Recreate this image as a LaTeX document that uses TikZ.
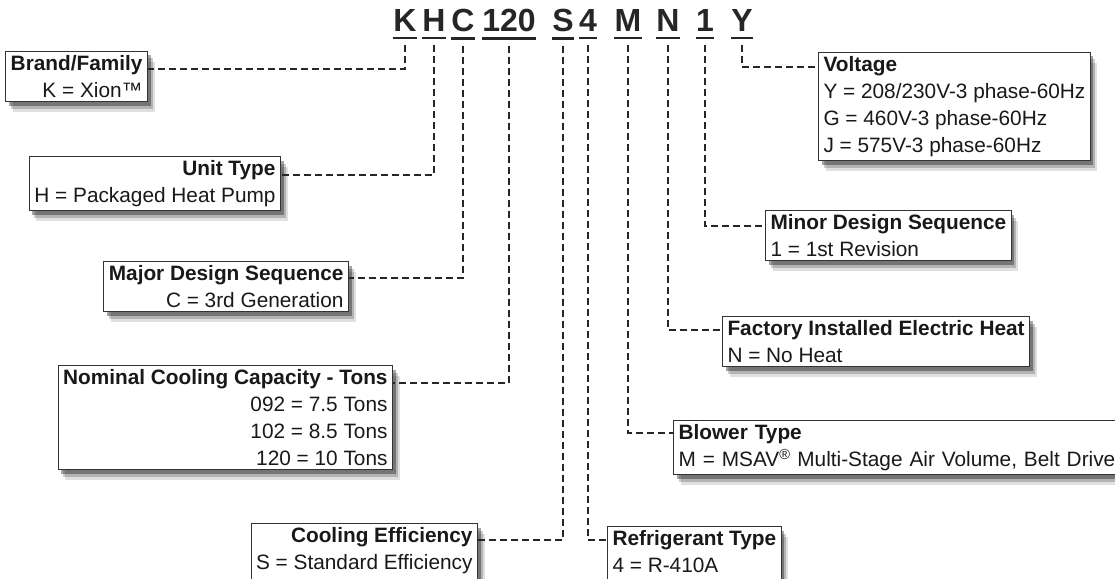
\documentclass[tikz,border=0pt]{standalone}
\usepackage{fontspec}
\setmainfont{Liberation Sans}
\usetikzlibrary{calc,shadows}

\tikzset{
	code/.style={font=\fontsize{32}{32}\selectfont\bfseries, text=black!85, inner sep=0pt, anchor=base},
	uline/.style={line width=2.2pt, color=black!85},
	link/.style={line width=2pt, color=black!85, dash pattern=on 7pt off 4pt},
	keybox/.style={draw=black!80, line width=1pt, fill=white, text=black!90, inner xsep=5pt, inner ysep=4pt,
		font=\fontsize{20.8}{27}\selectfont,
		general shadow={fill=black, opacity=.12, shadow xshift=7pt, shadow yshift=-10pt},
		general shadow={fill=black, opacity=.20, shadow xshift=5pt, shadow yshift=-7pt},
		general shadow={fill=black, opacity=.35, shadow xshift=3pt, shadow yshift=-4pt}},
	leftkey/.style={keybox, anchor=north east, align=right},
	rightkey/.style={keybox, anchor=north west, align=left},
}

\begin{document}
\begin{tikzpicture}[x=1pt, y=-1pt]
		%%%%% START %%%%%
		
		\useasboundingbox (0, 0) rectangle (1115, 578);
		\clip (0, 0) rectangle (1115, 578);
		
		\node[code] (cK) at (405, 32) {K};
		\node[code] (cH) at (434, 32) {H};
		\node[code] (cC) at (463, 32) {C};
		\node[code] (c120) at (509, 32) {120};
		\node[code] (cS) at (563, 32) {S};
		\node[code] (c4) at (588, 32) {4};
		\node[code] (cM) at (628, 32) {M};
		\node[code] (cN) at (668, 32) {N};
		\node[code] (c1) at (705, 32) {1};
		\node[code] (cY) at (742, 32) {Y};
		
		\foreach \c in {cK, cH, cC, c120, cS, c4, cM, cN, c1, cY}
			\draw[uline] ([yshift=-6pt]\c.south west) -- ([yshift=-6pt]\c.south east);
		
		\node[leftkey] (brand) at (148, 51) {\textbf{Brand/Family}\\K = Xion™};
		\node[leftkey] (unit) at (281, 156) {\textbf{Unit Type}\\H = Packaged Heat Pump};
		\node[leftkey] (major) at (349, 261) {\textbf{Major Design Sequence}\\C = 3rd Generation};
		\node[leftkey] (nominal) at (393, 365) {\textbf{Nominal Cooling Capacity - Tons}\\092 = 7.5 Tons\\102 = 8.5 Tons\\120 = 10 Tons};
		\node[leftkey, text depth=24pt] (cooleff) at (478, 523) {\textbf{Cooling Efficiency}\\S = Standard Efficiency};
		
		\node[rightkey] (volt) at (818, 52) {\textbf{Voltage}\\Y = 208/230V-3 phase-60Hz\\G = 460V-3 phase-60Hz\\J = 575V-3 phase-60Hz};
		\node[rightkey] (minor) at (765, 210) {\textbf{Minor Design Sequence}\\1 = 1st Revision};
		\node[rightkey] (heat) at (722, 316) {\textbf{Factory Installed Electric Heat}\\N = No Heat};
		\node[rightkey, text width=460pt] (blower) at (673, 420) {\textbf{Blower Type}\\M = MSAV\textsuperscript{®} Multi-Stage Air Volume, Belt Drive};
		\node[rightkey, text depth=24pt] (refrig) at (607, 526) {\textbf{Refrigerant Type}\\4 = R-410A};
		
		\draw[link] ([yshift=-13pt]cK.south) |- ($(brand.north east)+(0, 18)$);
		\draw[link] ([yshift=-13pt]cH.south) |- ($(unit.north east)+(0, 19)$);
		\draw[link] ([yshift=-13pt]cC.south) |- ($(major.north east)+(0, 17)$);
		\draw[link] ([yshift=-13pt]c120.south) |- ($(nominal.north east)+(0, 18)$);
		\draw[link] ([yshift=-13pt]cS.south) |- ($(cooleff.north east)+(0, 17)$);
		
		\draw[link] ([yshift=-13pt]cY.south) |- ($(volt.north west)+(0, 15)$);
		\draw[link] ([yshift=-13pt]c1.south) |- ($(minor.north west)+(0, 16)$);
		\draw[link] ([yshift=-13pt]cN.south) |- ($(heat.north west)+(0, 14)$);
		\draw[link] ([yshift=-13pt]cM.south) |- ($(blower.north west)+(0, 13)$);
		\draw[link] ([yshift=-13pt]c4.south) |- ($(refrig.north west)+(0, 14)$);
		
		%%%%% END %%%%%
	\end{tikzpicture}
\end{document}
